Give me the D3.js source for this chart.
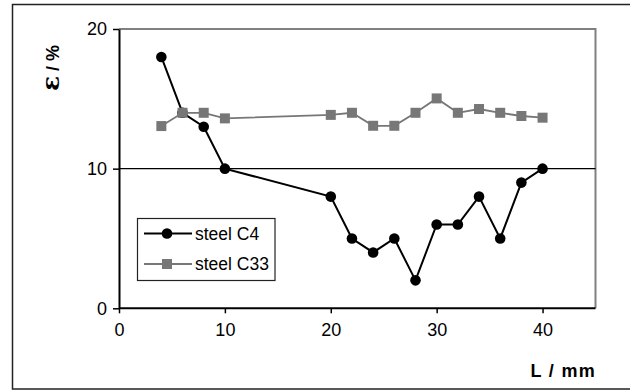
<!DOCTYPE html>
<html>
<head>
<meta charset="utf-8">
<script src="https://cdn.jsdelivr.net/npm/d3@7/dist/d3.min.js"></script>
<style>
  html, body { margin: 0; padding: 0; background: #fff; }
  svg { display: block; font-family: "Liberation Sans", Arial, sans-serif; }
</style>
</head>
<body>
<div id="chart"></div>
<script>
const lengths = [4, 6, 8, 10, 20, 22, 24, 26, 28, 30, 32, 34, 36, 38, 40];
const steelC4 = [18, 14, 13, 10, 8, 5, 4, 5, 2, 6, 6, 8, 5, 9, 10];
const steelC33 = [13.05, 14, 14, 13.6, 13.85, 14, 13.07, 13.07, 14, 15.03, 14, 14.27, 14, 13.77, 13.65];
const xTicks = [0, 10, 20, 30, 40];
const yTicks = [0, 10, 20];
const seriesNames = ['steel C4', 'steel C33'];

const w = 630, h = 390;
const m = { t: 29, r: 35, b: 82, l: 119 };

const svg = d3.select('#chart').append('svg').attr('width', w).attr('height', h);

// outer chart frame (runs off the right edge)
svg.append('rect')
  .attr('x', 12.5).attr('y', 4.5)
  .attr('width', 640).attr('height', 384.5)
  .attr('fill', 'none').attr('stroke', '#222').attr('stroke-width', 1.5);

const x = d3.scaleLinear().domain([0, 45]).range([0, 476.5]);
const y = d3.scaleLinear().domain([0, 20]).range([279.3, 0]);

const g = svg.append('g').attr('transform', `translate(${m.l},${m.t})`);

// plot area border (gray, top and right)
g.append('path')
  .attr('d', `M0,${y(20)}H${x(45)}V${y(0)}`)
  .attr('fill', 'none').attr('stroke', '#808080').attr('stroke-width', 2);

// gridline at 10
g.append('line')
  .attr('x1', 0).attr('x2', x(45))
  .attr('y1', y(10)).attr('y2', y(10))
  .attr('stroke', '#000').attr('stroke-width', 1.2);

const xAxis = g.append('g').attr('transform', `translate(0,${y(0)})`)
  .call(d3.axisBottom(x).tickValues(xTicks).tickSize(5).tickPadding(10).tickSizeOuter(0));
const yAxis = g.append('g')
  .call(d3.axisLeft(y).tickValues(yTicks).tickSize(6).tickPadding(6).tickSizeOuter(0));

[xAxis, yAxis].forEach(a => {
  a.select('.domain').attr('stroke', '#000').attr('stroke-width', 2);
  a.selectAll('.tick line').attr('stroke', '#000').attr('stroke-width', 1.5);
  a.selectAll('.tick text').attr('fill', '#000').style('font-size', '18px');
});
xAxis.select('.domain').attr('d', `M0,0H${x(45)}`);

// series
const c4 = lengths.map((d, i) => [d, steelC4[i]]);
const c33 = lengths.map((d, i) => [d, steelC33[i]]);
const line = d3.line().x(d => x(d[0])).y(d => y(d[1]));

g.append('path').datum(c4).attr('d', line)
  .attr('fill', 'none').attr('stroke', '#000').attr('stroke-width', 2);
g.append('g').selectAll('circle').data(c4).enter().append('circle')
  .attr('cx', d => x(d[0])).attr('cy', d => y(d[1])).attr('r', 5.3)
  .attr('fill', '#000');

g.append('path').datum(c33).attr('d', line)
  .attr('fill', 'none').attr('stroke', '#777').attr('stroke-width', 1.8);
g.append('g').selectAll('rect').data(c33).enter().append('rect')
  .attr('x', d => x(d[0]) - 5).attr('y', d => y(d[1]) - 5)
  .attr('width', 10).attr('height', 10)
  .attr('fill', '#777');

// axis titles
const yt = svg.append('text')
  .attr('transform', 'translate(59,68) rotate(-90)')
  .attr('text-anchor', 'middle')
  .style('font-size', '18px').style('font-weight', 'bold');
yt.append('tspan').style('font-size', '25px').style('font-family', '"DejaVu Serif", serif').text('\u03b5');
yt.append('tspan').text(' / %');

svg.append('text')
  .attr('x', 596).attr('y', 377)
  .attr('text-anchor', 'end')
  .style('font-size', '18px').style('font-weight', 'bold')
  .style('letter-spacing', '1.3px')
  .text('L / mm');

// legend
const lg = svg.append('g').attr('transform', 'translate(137,218)');
lg.append('rect').attr('x', 0.5).attr('y', 0.5).attr('width', 137.5).attr('height', 62)
  .attr('fill', '#fff').attr('stroke', '#222').attr('stroke-width', 1.2);
seriesNames.forEach((name, i) => {
  const yy = 15.5 + i * 30.5;
  const col = i === 0 ? '#000' : '#777';
  lg.append('line').attr('x1', 7).attr('x2', 55).attr('y1', yy).attr('y2', yy)
    .attr('stroke', col).attr('stroke-width', i === 0 ? 2 : 1.8);
  if (i === 0) {
    lg.append('circle').attr('cx', 30).attr('cy', yy).attr('r', 5.3).attr('fill', col);
  } else {
    lg.append('rect').attr('x', 25).attr('y', yy - 5).attr('width', 10).attr('height', 10).attr('fill', col);
  }
  lg.append('text').attr('x', 58).attr('y', yy + 6)
    .style('font-size', '17.5px').attr('fill', '#000')
    .text(name);
});
</script>
</body>
</html>
